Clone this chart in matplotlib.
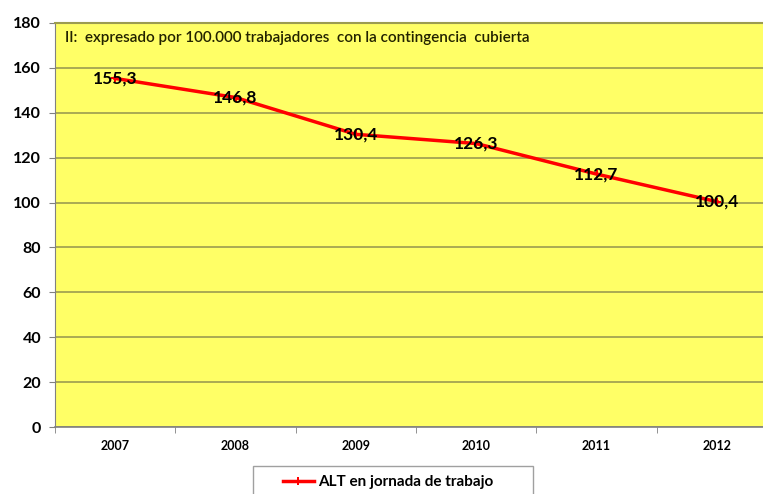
import matplotlib
matplotlib.use("Agg")
import matplotlib.pyplot as plt
from matplotlib.ticker import FixedLocator
from matplotlib.patches import Rectangle

years = ["2007", "2008", "2009", "2010", "2011", "2012"]
values = [155.3, 146.8, 130.4, 126.3, 112.7, 100.4]
labels = ["155,3", "146,8", "130,4", "126,3", "112,7", "100,4"]
yticks = [0, 20, 40, 60, 80, 100, 120, 140, 160, 180]
series_name = "ALT en jornada de trabajo"
note = "II:  expresado por 100.000 trabajadores  con la contingencia  cubierta"

plt.rcParams['font.family'] = ['Lato', 'DejaVu Sans']

W, H = 763, 494
fig = plt.figure(figsize=(W/100, H/100), dpi=100)
ax = fig.add_axes([55/W, 67/H, 722/W, 404/H])
ax.set_facecolor('#FFFF66')

x = list(range(len(years)))
line, = ax.plot(x, values, color='#FF0000', lw=2.5, marker='P', markersize=6,
                markeredgewidth=0, zorder=3, label=series_name)
for xi, v, lab in zip(x, values, labels):
    ax.text(xi, v, lab, ha='center', va='center', fontsize=12.5, fontweight='bold',
            color='black', zorder=4)

ax.set_xlim(-0.5, len(years) - 0.5)
ax.set_ylim(0, 180)
ax.set_yticks(yticks)
ax.set_yticklabels([str(t) for t in yticks], fontsize=11.5, fontweight='bold')
ax.set_xticks(x)
ax.set_xticklabels(years, fontsize=9, fontweight='bold')
ax.xaxis.set_minor_locator(FixedLocator([i - 0.5 for i in range(len(years) + 1)]))
ax.tick_params(axis='x', which='major', length=0, pad=9)
ax.tick_params(axis='x', which='minor', length=4, color='#808080')
ax.tick_params(axis='y', length=4, color='#808080', pad=6)

ax.grid(axis='y', color='#9C9C50', lw=1.2, zorder=1)
ax.set_axisbelow(True)
ax.spines['right'].set_visible(False)
ax.spines['top'].set_color('#9C9C50')
ax.spines['top'].set_linewidth(1.5)
ax.spines['left'].set_color('#808080')
ax.spines['bottom'].set_color('#808080')
ax.spines['bottom'].set_linewidth(1.2)

fig.text(65/W, 1 - 38/H, note, fontsize=11, fontweight='semibold',
         ha='left', va='center', color='#222200')

# legend box
fig.patches.append(Rectangle((253/W, 1 - 505/H), 280/W, 39/H, transform=fig.transFigure,
                             facecolor='white', edgecolor='#A0A0A0', lw=1.0, zorder=5))
leg = fig.legend(handles=[line], loc='center left', bbox_to_anchor=(283/W, 1 - 482/H),
                 frameon=False, prop={'weight': 'bold', 'size': 11}, handlelength=2.0,
                 handletextpad=0.3, borderpad=0, borderaxespad=0)
leg.set_zorder(6)

fig.savefig('out.png', dpi=100)
